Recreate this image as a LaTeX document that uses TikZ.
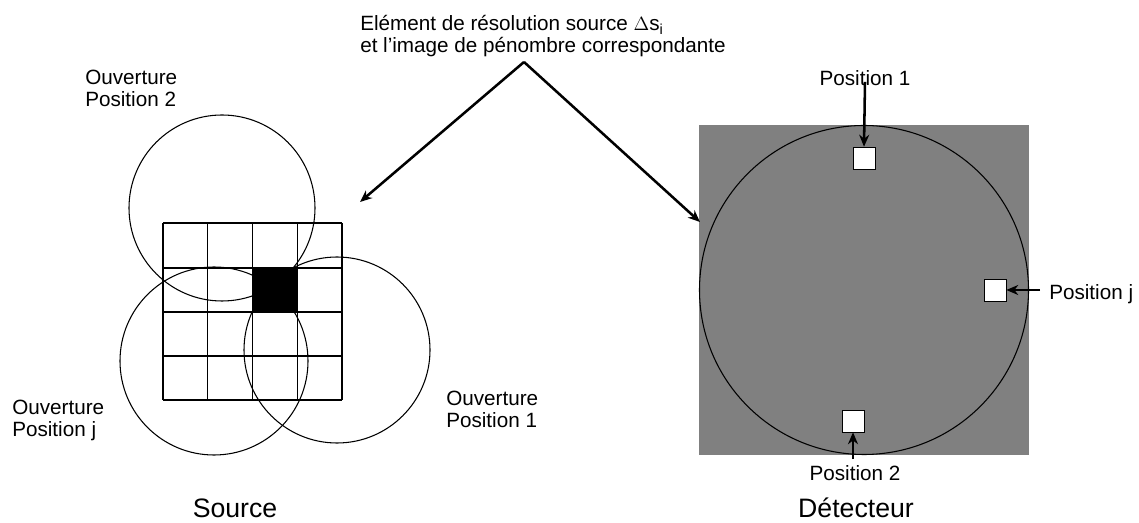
\documentclass[tikz,border=0pt]{standalone}
\usepackage{fontspec}
\setmainfont{Liberation Sans}
\usepackage{tikz}
\usetikzlibrary{arrows.meta, positioning, calc}
\tikzset{
  lbl/.style={align=left, inner sep=0pt, font=\fontsize{15.5}{16.5}\selectfont},
  big/.style={inner sep=0pt, font=\fontsize{20}{24}\selectfont},
  pix/.style={rectangle, draw=black, fill=white, minimum size=16.5pt, inner sep=0pt},
  ouv/.style={draw=black, line width=0.8pt},
  arc/.style={-{Stealth[length=9pt, width=7.5pt]}, line width=1.9pt}
}

\begin{document}
\begin{tikzpicture}[x=0.75pt, y=-0.75pt]
    \useasboundingbox (0,0) rectangle (1139,523);
    % source grid
    \fill[black] (253,268) rectangle (297.5,312);
    \foreach \c in {163,207.75,252.5,297.25,342} \draw[line width=1pt] (\c,223) -- (\c,400);
    \foreach \r in {223,268,312,356,400} \draw[line width=1pt] (163,\r) -- (342,\r);
    \draw[ouv] (222,208) circle[radius=93];
    \draw[ouv] (214,361) circle[radius=94];
    \draw[ouv] (337,350) circle[radius=93];
    \node[lbl, anchor=west] (o2) at (85,88) {Ouverture\\Position 2};
    \node[lbl, anchor=west] (oj) at (12,420) {Ouverture\\Position j};
    \node[lbl, anchor=west] (o1) at (446,409) {Ouverture\\Position 1};
    \node[big] (src) at (235,508) {Source};
    % detector
    \fill[gray] (699,125) rectangle (1029,455);
    \draw[ouv] (864,290) circle[radius=164.5];
    \node[pix] (s1) at (864,158) {};
    \node[pix] (sj) at (995,290) {};
    \node[pix] (s2) at (853,421) {};
    \node[lbl] (p1) at (865,78) {Position 1};
    \node[lbl, anchor=west] (pj) at (1049,294) {Position j};
    \node[lbl] (p2) at (855,473) {Position 2};
    \node[big] (det) at (856,508) {Détecteur};
    \draw[arc] ($(p1.south)+(0,-4)$) -- (s1.north);
    \draw[arc] ($(pj.west)+(-9,-4)$) -- (sj.east);
    \draw[arc] ($(p2.north)+(-2,-6)$) -- (s2.south);
    % resolution element
    \node[lbl, anchor=west] (elt) at (360,36) {Elément de résolution source $\Delta$s\textsubscript{i}\\et l'image de pénombre correspondante};
    \coordinate (apex) at (524,62);
    \coordinate (tipl) at (360,202);
    \coordinate (tipr) at (700,222);
    \draw[arc] (apex) -- (tipl);
    \draw[arc] (apex) -- (tipr);
\end{tikzpicture}
\end{document}
